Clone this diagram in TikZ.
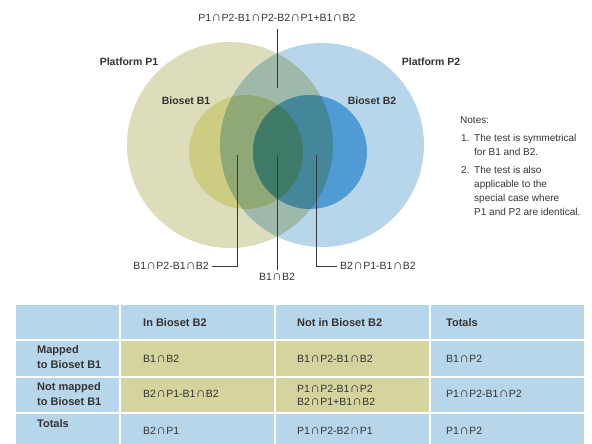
\documentclass[tikz,border=0pt]{standalone}
\usepackage{fontspec}
\setmainfont{Liberation Sans}
\usepackage{xcolor}
\usetikzlibrary{positioning}
\definecolor{txtgray}{HTML}{333333}
\definecolor{linegray}{HTML}{3A3A3A}
\definecolor{ponefill}{HTML}{DDDDBC}
\definecolor{ptwofill}{HTML}{B8D6EA}
\definecolor{pbothfill}{HTML}{9EB9AA}
\definecolor{bonefill}{HTML}{CCCC82}
\definecolor{boneptwo}{HTML}{8FA876}
\definecolor{btwofill}{HTML}{509BD4}
\definecolor{btwopone}{HTML}{44879B}
\definecolor{bbothfill}{HTML}{3E7A68}
\definecolor{cellblue}{HTML}{B8D6EA}
\definecolor{cellkhaki}{HTML}{D4D49E}
\newcommand{\intr}{\kern0.3pt{\fontsize{13.5}{12}\selectfont ∩}\kern0.3pt}

\begin{document}
\begin{tikzpicture}[x=1pt,y=-1pt,
    setname/.style={font=\fontsize{10.5}{12}\selectfont\bfseries, text=txtgray, inner sep=2pt},
    region/.style={font=\fontsize{10.5}{12}\selectfont, text=txtgray, inner sep=3pt},
    leader/.style={draw=linegray, line width=0.9pt},
    notetext/.style={font=\fontsize{10}{14}\selectfont, text=txtgray, align=left, inner sep=0pt},
    headcell/.style={font=\fontsize{11}{15}\selectfont\bfseries, text=txtgray, align=left, inner sep=0pt, anchor=west},
    bodycell/.style={font=\fontsize{10.5}{13.5}\selectfont, text=txtgray, align=left, inner sep=0pt, anchor=west}]
    \useasboundingbox (0,0) rectangle (592,444);

    \coordinate (pone) at (230,145);
    \coordinate (ptwo) at (322,145);
    \coordinate (bone) at (246,152);
    \coordinate (btwo) at (310,152);

    \fill[ponefill] (pone) circle[radius=103pt];
    \fill[ptwofill] (ptwo) circle[radius=102pt];
    \begin{scope}
        \clip (pone) circle[radius=103pt];
        \fill[pbothfill] (ptwo) circle[radius=102pt];
    \end{scope}
    \fill[bonefill] (bone) circle[radius=57pt];
    \begin{scope}
        \clip (ptwo) circle[radius=102pt];
        \fill[boneptwo] (bone) circle[radius=57pt];
    \end{scope}
    \fill[btwofill] (btwo) circle[radius=57pt];
    \begin{scope}
        \clip (pone) circle[radius=103pt];
        \fill[btwopone] (btwo) circle[radius=57pt];
    \end{scope}
    \begin{scope}
        \clip (bone) circle[radius=57pt];
        \fill[bbothfill] (btwo) circle[radius=57pt];
    \end{scope}

    \node[setname] (ponelbl) at (129,62) {Platform P1};
    \node[setname] (ptwolbl) at (431,62) {Platform P2};
    \node[setname] (bonelbl) at (186,101) {Bioset B1};
    \node[setname] (btwolbl) at (372,101) {Bioset B2};

    \coordinate (topend) at (277,88);
    \coordinate (leftend) at (237,155);
    \coordinate (midend) at (277,155);
    \coordinate (rightend) at (316,155);
    \node[region] (toplbl) at (277,18) {P1\intr P2-B1\intr P2-B2\intr P1+B1\intr B2};
    \node[region, anchor=east] (leftlbl) at (212,266) {B1\intr P2-B1\intr B2};
    \node[region] (midlbl) at (277,277) {B1\intr B2};
    \node[region, anchor=west] (rightlbl) at (337,266) {B2\intr P1-B1\intr B2};
    \draw[leader] ([yshift=-4pt]toplbl.south) -- (topend);
    \draw[leader] (leftend) |- (leftlbl.east);
    \draw[leader] (midend) -- (midlbl.north);
    \draw[leader] (rightend) |- (rightlbl.west);

    \node[notetext, anchor=west] (notes) at (460,120) {Notes:};
    \node[notetext, anchor=north west] (numone) at (461,134) {1.};
    \node[notetext, anchor=north west] (noteone) at (474,134) {The test is symmetrical\\for B1 and B2.};
    \node[notetext, anchor=north west] (numtwo) at (461,166) {2.};
    \node[notetext, anchor=north west] (notetwo) at (474,166) {The test is also\\applicable to the\\special case where\\P1 and P2 are identical.};

    \foreach \xa/\xb in {16/119, 121/274, 276/429, 431/584} {
        \foreach \ya/\yb in {305/339, 341/376, 378/412, 414/444} {
            \fill[cellblue] (\xa,\ya) rectangle (\xb,\yb);
        }
    }
    \foreach \xa/\xb/\ya/\yb in {121/274/341/376, 276/429/341/376, 121/274/378/412, 276/429/378/412} {
        \fill[cellkhaki] (\xa,\ya) rectangle (\xb,\yb);
    }

    \node[headcell] (colin) at (143,323) {In Bioset B2};
    \node[headcell] (colnot) at (297,323) {Not in Bioset B2};
    \node[headcell] (coltot) at (446,323) {Totals};
    \node[headcell] (rowmap) at (37,357.5) {Mapped\\to Bioset B1};
    \node[headcell] (rownot) at (37,394.5) {Not mapped\\to Bioset B1};
    \node[headcell] (rowtot) at (37,424) {Totals};

    \node[bodycell] (mapin) at (143,359) {B1\intr B2};
    \node[bodycell] (mapnot) at (297,359) {B1\intr P2-B1\intr B2};
    \node[bodycell] (maptot) at (446,359) {B1\intr P2};
    \node[bodycell] (notin) at (143,394) {B2\intr P1-B1\intr B2};
    \node[bodycell] (notnot) at (297,395.5) {P1\intr P2-B1\intr P2\\B2\intr P1+B1\intr B2};
    \node[bodycell] (nottot) at (446,394) {P1\intr P2-B1\intr P2};
    \node[bodycell] (totin) at (143,431) {B2\intr P1};
    \node[bodycell] (totnot) at (297,431) {P1\intr P2-B2\intr P1};
    \node[bodycell] (tottot) at (446,431) {P1\intr P2};
\end{tikzpicture}
\end{document}
